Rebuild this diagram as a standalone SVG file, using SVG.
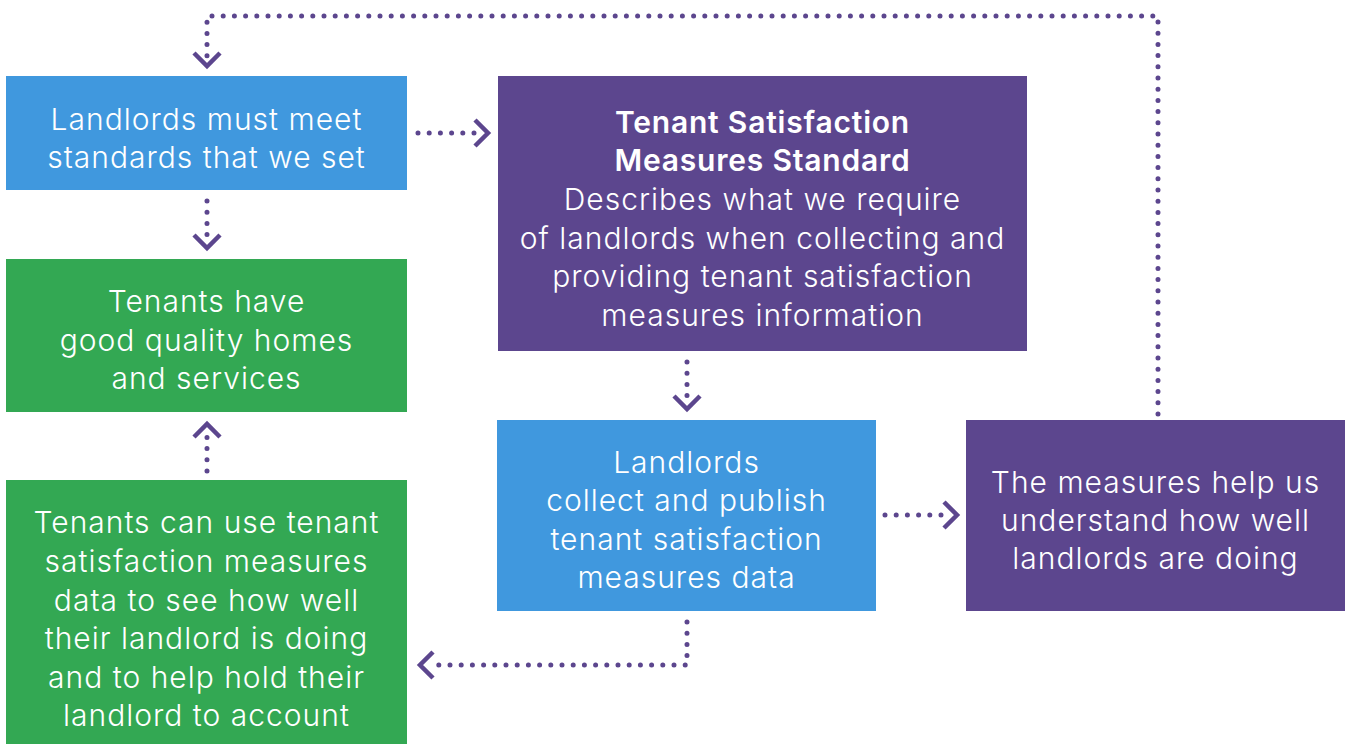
<svg xmlns="http://www.w3.org/2000/svg" width="1346" height="744" viewBox="0 0 1346 744">
<style>
.blue{fill:#4098de}
.green{fill:#33a853}
.purple{fill:#5c468e}
text{font-family:Inter,"Noto Sans",sans-serif;font-size:30px;font-weight:300;letter-spacing:1px;fill:#fff;text-anchor:middle}
.b{font-weight:600;letter-spacing:0.8px}
.dot{fill:none;stroke:#5c468e;stroke-width:5;stroke-linecap:round;stroke-dasharray:0 11.2}
.chev{fill:none;stroke:#5c468e;stroke-width:4.5;stroke-linecap:butt;stroke-linejoin:miter}
</style>
<rect width="1346" height="744" fill="#fff"/>
<g id="connectors">
  <path class="dot" d="M1158 414 V16 H207 V56"/>
  <path class="chev" d="M194 53 L207 66 L220 53"/>
  <path class="dot" d="M418 133 H478"/>
  <path class="chev" d="M475 120 L488 133 L475 146"/>
  <path class="dot" d="M207 201 V239"/>
  <path class="chev" d="M194 235 L207 248 L220 235"/>
  <path class="dot" d="M687 362 V400"/>
  <path class="chev" d="M674 396 L687 409 L700 396"/>
  <path class="dot" d="M207 471 V433"/>
  <path class="chev" d="M194 437 L207 424 L220 437"/>
  <path class="dot" d="M687 622 V665 H430"/>
  <path class="chev" d="M433 652 L420 665 L433 678"/>
  <path class="dot" d="M885 515 H947"/>
  <path class="chev" d="M944 502 L957 515 L944 528"/>
</g>
<g id="node-standards">
  <rect class="blue" x="6" y="76" width="401" height="114"/>
  <text x="206.5" y="130">Landlords must meet</text>
  <text x="206.5" y="168">standards that we set</text>
</g>
<g id="node-homes">
  <rect class="green" x="6" y="259" width="401" height="153"/>
  <text x="206.5" y="312">Tenants have</text>
  <text x="206.5" y="351">good quality homes</text>
  <text x="206.5" y="389">and services</text>
</g>
<g id="node-tenants-use">
  <rect class="green" x="6" y="480" width="401" height="264"/>
  <text x="206.5" y="533">Tenants can use tenant</text>
  <text x="206.5" y="572">satisfaction measures</text>
  <text x="206.5" y="611">data to see how well</text>
  <text x="206.5" y="649">their landlord is doing</text>
  <text x="206.5" y="688">and to help hold their</text>
  <text x="206.5" y="726">landlord to account</text>
</g>
<g id="node-tsm-standard">
  <rect class="purple" x="498" y="76" width="529" height="275"/>
  <text class="b" x="762.5" y="133">Tenant Satisfaction</text>
  <text class="b" x="762.5" y="171">Measures Standard</text>
  <text x="762.5" y="210">Describes what we require</text>
  <text x="762.5" y="249">of landlords when collecting and</text>
  <text x="762.5" y="287">providing tenant satisfaction</text>
  <text x="762.5" y="326">measures information</text>
</g>
<g id="node-collect">
  <rect class="blue" x="497" y="420" width="379" height="191"/>
  <text x="686.5" y="473">Landlords</text>
  <text x="686.5" y="511">collect and publish</text>
  <text x="686.5" y="550">tenant satisfaction</text>
  <text x="686.5" y="588">measures data</text>
</g>
<g id="node-measures-help">
  <rect class="purple" x="966" y="420" width="379" height="191"/>
  <text x="1155.5" y="493">The measures help us</text>
  <text x="1155.5" y="531">understand how well</text>
  <text x="1155.5" y="569">landlords are doing</text>
</g>
</svg>
